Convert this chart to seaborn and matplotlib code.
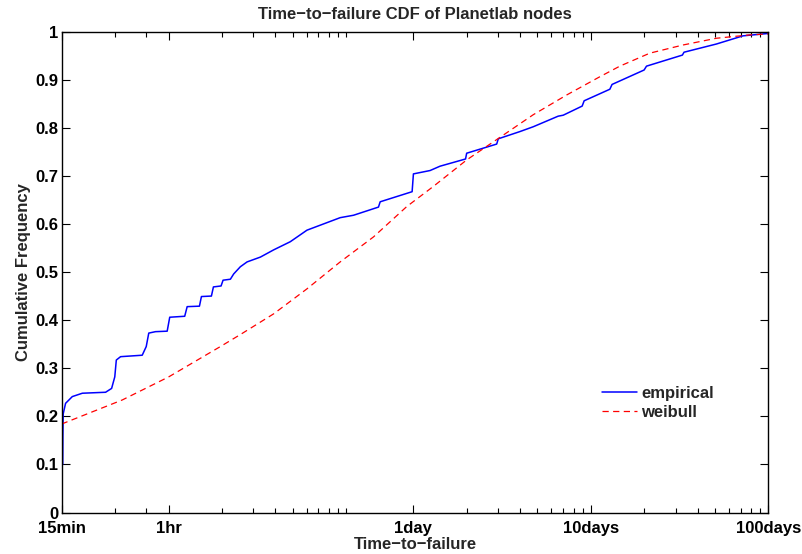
import numpy as np
import pandas as pd
import matplotlib
matplotlib.use("Agg")
import matplotlib.pyplot as plt
import seaborn as sns
from matplotlib.ticker import FixedLocator, FixedFormatter, NullFormatter

# ---------------- data (x in hours) ----------------
emp_hours = [0.2535, 0.2540, 0.2550, 0.263, 0.287, 0.327, 0.442, 0.478, 0.498, 0.508,
             0.537, 0.711, 0.749, 0.774, 0.845, 0.983, 1.016, 1.234, 1.274, 1.494,
             1.533, 1.745, 1.791, 1.978, 2.030, 2.232, 2.330, 2.541, 2.772, 3.293,
             3.912, 4.857, 6.03, 9.28, 11.03, 15.25, 15.59, 23.6, 24.0, 29.8,
             33.9, 47.2, 47.9, 70.7, 72.2, 95.6, 113.6, 157, 167.6, 214.4, 220.0,
             307, 316, 479, 494, 787, 804, 1223, 1727, 2400]
emp_cdf = [0.100, 0.16, 0.205, 0.227, 0.241, 0.248, 0.250, 0.258, 0.282, 0.317,
           0.324, 0.327, 0.345, 0.373, 0.376, 0.377, 0.406, 0.408, 0.428, 0.429,
           0.449, 0.450, 0.469, 0.471, 0.483, 0.485, 0.496, 0.511, 0.521, 0.531,
           0.546, 0.563, 0.587, 0.613, 0.618, 0.635, 0.646, 0.667, 0.704, 0.711,
           0.720, 0.735, 0.747, 0.766, 0.777, 0.792, 0.802, 0.824, 0.826, 0.845, 0.856,
           0.880, 0.890, 0.920, 0.928, 0.951, 0.957, 0.974, 0.991, 0.996]

wb_hours = [0.25, 0.549, 1.003, 1.960, 2.541, 3.912, 6.03, 9.28, 14.3, 22.0, 31.1,
            47.9, 73.8, 113.6, 175.2, 269.7, 349.5, 515.6, 793.6, 1223, 1884, 2400]
wb_cdf = [0.184, 0.234, 0.282, 0.345, 0.370, 0.413, 0.465, 0.521, 0.573, 0.636, 0.678,
          0.733, 0.780, 0.827, 0.868, 0.906, 0.928, 0.955, 0.972, 0.986, 0.993, 0.995]

major_tick_hours = [0.25, 1, 24, 240, 2400]
major_tick_labels = ["15min", "1hr", "1day", "10days", "100days"]
minor_tick_hours = [0.5, 0.75, 2, 3, 4, 5, 6, 7, 8, 9, 10,
                    48, 72, 96, 120, 144, 168, 192, 216,
                    480, 720, 960, 1200, 1440, 1680, 1920, 2160]
y_ticks = [0, 0.1, 0.2, 0.3, 0.4, 0.5, 0.6, 0.7, 0.8, 0.9, 1]
y_tick_labels = ["0", "0.1", "0.2", "0.3", "0.4", "0.5", "0.6", "0.7", "0.8", "0.9", "1"]

title = "Time\u2212to\u2212failure CDF of Planetlab nodes"
xlabel = "Time\u2212to\u2212failure"
ylabel = "Cumulative Frequency"

# ---------------- style ----------------
sns.set_style("ticks")
plt.rcParams['font.family'] = ['Liberation Sans', 'DejaVu Sans']
plt.rcParams['font.weight'] = 'bold'
plt.rcParams['axes.labelweight'] = 'bold'
plt.rcParams['axes.titleweight'] = 'bold'
plt.rcParams['axes.edgecolor'] = 'black'
plt.rcParams['axes.linewidth'] = 1.0

FS = 12

fig = plt.figure(figsize=(8.03, 5.54), dpi=100)
ax = fig.add_axes([0.0768, 0.0749, 0.880, 0.8682])
ax.set_xscale('log')

df_emp = pd.DataFrame({"hours": emp_hours, "cdf": emp_cdf})
df_wb = pd.DataFrame({"hours": wb_hours, "cdf": wb_cdf})

sns.lineplot(data=df_emp, x="hours", y="cdf", ax=ax, color=(0, 0, 1),
             linewidth=1.1, estimator=None, sort=False, label="empirical")
sns.lineplot(data=df_wb, x="hours", y="cdf", ax=ax, color=(1, 0, 0),
             linewidth=0.9, linestyle=(0, (5, 3.5)), estimator=None, sort=False,
             label="weibull")

ax.set_xlim(0.25, 2400)
ax.set_ylim(0, 1)
ax.xaxis.set_major_locator(FixedLocator(major_tick_hours))
ax.xaxis.set_major_formatter(FixedFormatter(major_tick_labels))
ax.xaxis.set_minor_locator(FixedLocator(minor_tick_hours))
ax.xaxis.set_minor_formatter(NullFormatter())
ax.yaxis.set_major_locator(FixedLocator(y_ticks))
ax.yaxis.set_major_formatter(FixedFormatter(y_tick_labels))

ax.tick_params(which='both', direction='in', top=True, right=True,
               labelsize=FS, width=0.8, color='black', labelcolor='black')
ax.tick_params(which='major', length=6)
ax.tick_params(which='minor', length=3.5)
ax.tick_params(axis='x', which='major', pad=6)
ax.tick_params(axis='y', which='major', pad=2.5)
for lab in ax.get_xticklabels() + ax.get_yticklabels():
    lab.set_fontweight('bold')

for s in ax.spines.values():
    s.set_visible(True)
    s.set_color('black')
    s.set_linewidth(1.0)

ax.set_title(title, fontsize=FS, fontweight='bold', pad=9)
ax.set_xlabel(xlabel, fontsize=FS, fontweight='bold', labelpad=1)
ax.set_ylabel(ylabel, fontsize=FS, fontweight='bold', labelpad=3)

leg = ax.legend(loc='center left', bbox_to_anchor=(0.765, 0.2275), frameon=False,
                fontsize=FS, handlelength=2.1, handletextpad=0.25,
                labelspacing=0.25, borderpad=0, borderaxespad=0)
for t in leg.get_texts():
    t.set_fontweight('bold')

fig.savefig("out.png", dpi=100)
